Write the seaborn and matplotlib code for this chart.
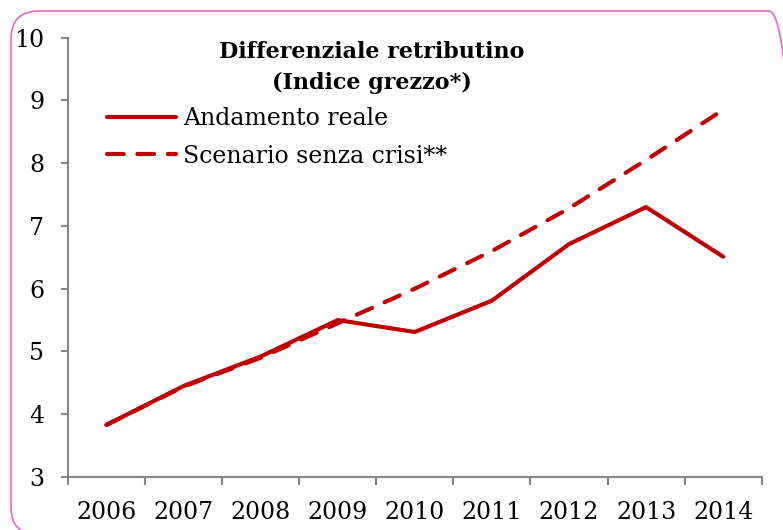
import seaborn as sns
import matplotlib.pyplot as plt
import pandas as pd
from matplotlib.patches import FancyBboxPatch
from matplotlib.lines import Line2D

# dati
anni = ['2006', '2007', '2008', '2009', '2010', '2011', '2012', '2013', '2014']
andamento_reale = [3.83, 4.45, 4.92, 5.50, 5.31, 5.81, 6.71, 7.30, 6.51]
scenario_senza_crisi = [3.83, 4.44, 4.90, 5.45, 6.00, 6.60, 7.28, 8.05, 8.85]
serie = ['Andamento reale', 'Scenario senza crisi**']
y_ticks = [3, 4, 5, 6, 7, 8, 9, 10]

df = pd.DataFrame({
    'anno': anni * 2,
    'valore': andamento_reale + scenario_senza_crisi,
    'serie': [serie[0]] * len(anni) + [serie[1]] * len(anni),
})

sns.set_theme(style='white')
plt.rcParams['font.family'] = ['DejaVu Serif']
plt.rcParams['text.color'] = 'black'

rosso = '#C00000'
grigio = '#868686'
tratteggio = (4, 3.3)

fig = plt.figure(figsize=(7.83, 5.30), dpi=100)
ax = fig.add_axes([0.0868, 0.100, 0.886, 0.829])

sns.lineplot(data=df, x='anno', y='valore', hue='serie', style='serie',
             palette={serie[0]: rosso, serie[1]: rosso},
             dashes={serie[0]: '', serie[1]: tratteggio},
             linewidth=3, legend=False, ax=ax, sort=False)
for ln in ax.lines:
    ln.set_dash_capstyle('round')
    ln.set_solid_capstyle('round')

ax.set_xlim(-0.5, len(anni) - 0.5)
ax.set_ylim(3, 10)
ax.set_yticks(y_ticks)
ax.set_xticks(range(len(anni)))
ax.set_xticklabels(anni)
ax.set_xticks([i - 0.5 for i in range(len(anni) + 1)], minor=True)
ax.set_xlabel('')
ax.set_ylabel('')

for s in ['top', 'right']:
    ax.spines[s].set_visible(False)
for s in ['left', 'bottom']:
    ax.spines[s].set_color(grigio)
    ax.spines[s].set_linewidth(1.5)

ax.tick_params(axis='y', which='major', left=True, length=5, width=1.5,
               color=grigio, labelsize=17, pad=12, labelcolor='black')
ax.tick_params(axis='x', which='major', bottom=False, length=0,
               labelsize=17, pad=17, labelcolor='black')
ax.tick_params(axis='x', which='minor', bottom=True, length=6, width=1.5,
               color=grigio)

fig.text(0.475, 0.873, 'Differenziale retributino\n(Indice grezzo*)',
         ha='center', va='center', fontsize=16, fontweight='bold',
         linespacing=1.5, color='black')

handles = [Line2D([], [], color=rosso, lw=3, solid_capstyle='round'),
           Line2D([], [], color=rosso, lw=3, ls=(0, tratteggio),
                  dash_capstyle='round')]
leg = ax.legend(handles, serie, loc='upper left', bbox_to_anchor=(0.137, 0.798),
                bbox_transform=fig.transFigure, frameon=False, fontsize=17,
                handlelength=2.9, handletextpad=0.3, labelspacing=0.62,
                borderaxespad=0, borderpad=0)
for t in leg.get_texts():
    t.set_color('black')

bordo = FancyBboxPatch((11, -5), 786, 524, boxstyle='round,pad=0,rounding_size=28',
                       transform=None, fill=False, edgecolor='#F064CC', lw=1.2)
fig.patches.append(bordo)

fig.savefig('out.png', dpi=100)
